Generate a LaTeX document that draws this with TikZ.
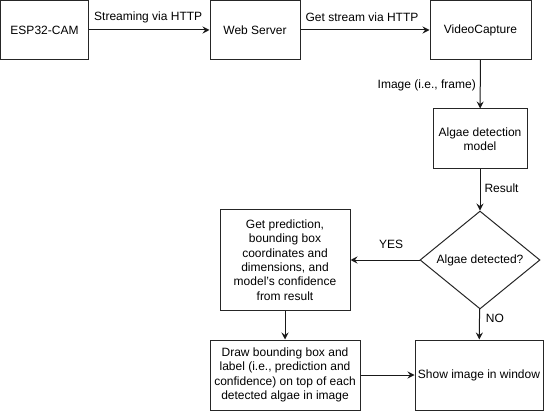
\documentclass[tikz,border=0pt]{standalone}
\usepackage{fontspec}
\setmainfont{Liberation Sans}
\usetikzlibrary{arrows.meta,shapes.geometric}
\begin{document}
\begin{tikzpicture}[x=1pt,y=-1pt,
  font=\fontsize{12}{14.4}\selectfont,
  box/.style={draw=black!85, line width=1pt, rectangle, inner sep=0pt, align=center},
  dia/.style={draw=black!85, line width=1pt, diamond, inner sep=0pt, align=center},
  arr/.style={draw=black!90, line width=1pt, -{Stealth[length=7pt,width=7pt,inset=2.5pt]}},
  lbl/.style={inner sep=0pt, text=black}
]
\useasboundingbox (0,0) rectangle (545,411);
\node[box, minimum width=88pt, minimum height=59pt] (esp) at (44.5,30) {ESP32-CAM};
\node[box, minimum width=90pt, minimum height=59pt] (web) at (255,30) {Web Server};
\node[box, minimum width=101pt, minimum height=59pt] (vc) at (480.5,30) {VideoCapture};
\node[box, minimum width=94pt, minimum height=60pt] (model) at (480,139) {Algae detection\\model};
\node[dia, minimum width=120pt, minimum height=80pt] (det) at (480,260) {Algae detected?};
\node[box, minimum width=130pt, minimum height=100pt] (gp) at (285,260) {Get prediction,\\bounding box\\coordinates and\\dimensions, and\\model's confidence\\from result};
\node[box, minimum width=150pt, minimum height=70pt] (dr) at (285,375) {Draw bounding box and\\label (i.e., prediction and\\confidence) on top of each\\detected algae in image};
\node[box, minimum width=128pt, minimum height=70pt] (show) at (479,375) {Show image in window};

\draw[arr] (esp) -- node[lbl, midway, yshift=13pt, xshift=-1pt] {Streaming via HTTP} (web);
\draw[arr] (web) -- node[lbl, midway, yshift=13pt, xshift=-3pt] {Get stream via HTTP} (vc);
\draw[arr] (vc) -- node[lbl, midway, anchor=east, xshift=-4pt, yshift=-1.5pt] {Image (i.e., frame)} (model);
\draw[arr] (model) -- node[lbl, midway, anchor=west, xshift=4pt, yshift=1.5pt] {Result} (det);
\draw[arr] (det) -- node[lbl, midway, yshift=16pt, xshift=6pt] {YES} (gp);
\draw[arr] (det) -- node[lbl, midway, anchor=west, xshift=6pt, yshift=6pt] {NO} (show);
\draw[arr] (gp) -- (dr);
\draw[arr] (dr) -- (show);
\end{tikzpicture}
\end{document}
